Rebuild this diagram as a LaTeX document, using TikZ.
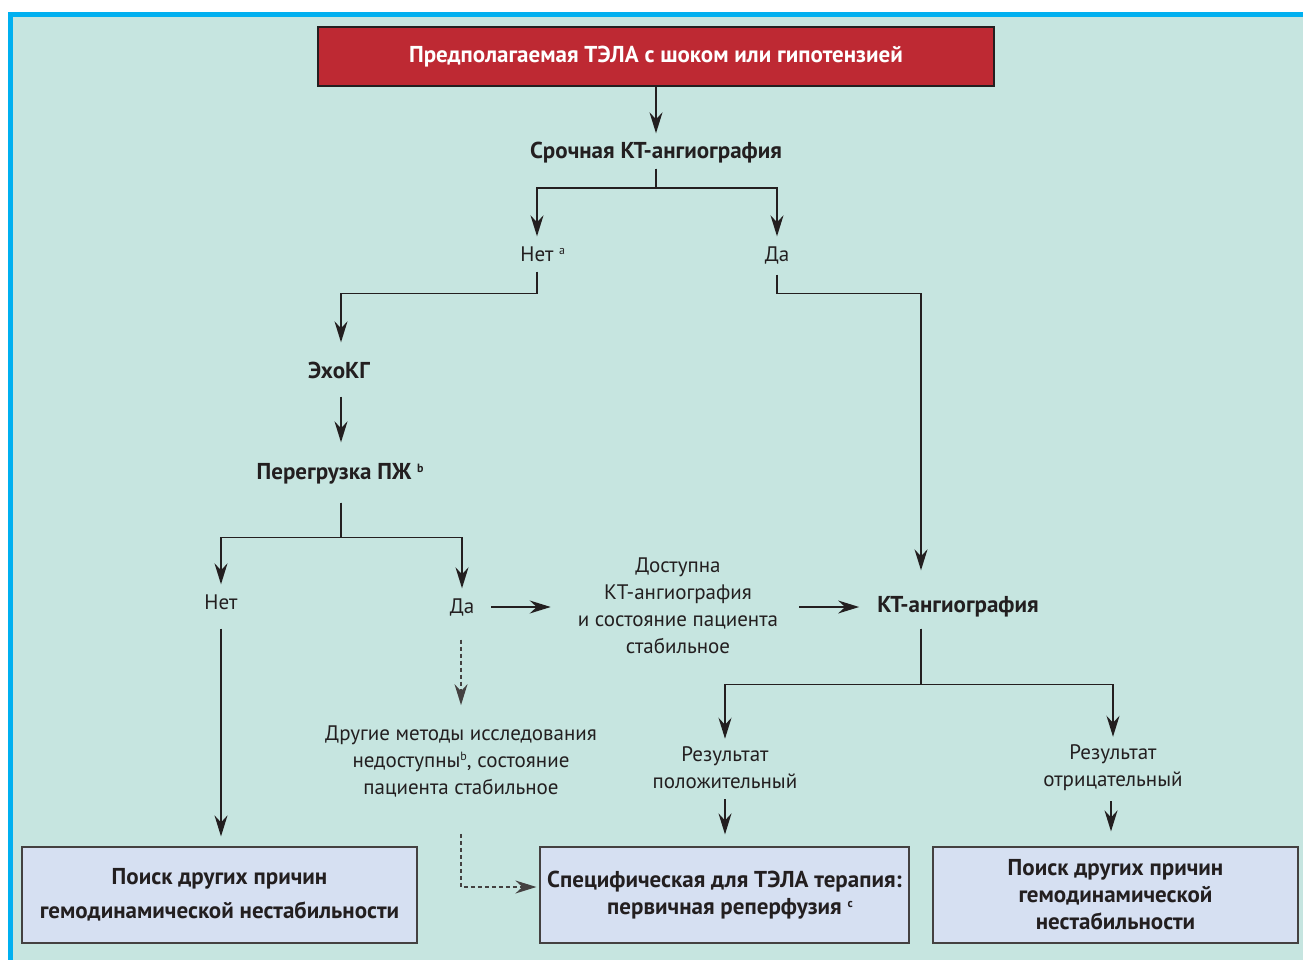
\documentclass[tikz,border=0pt]{standalone}
\usepackage{fontspec}
\setmainfont{PT Sans}
\usetikzlibrary{arrows.meta}
\definecolor{bg}{RGB}{198,229,224}
\definecolor{framecol}{RGB}{0,176,240}
\definecolor{redbox}{RGB}{190,41,51}
\definecolor{boxfill}{RGB}{214,224,242}
\definecolor{ink}{RGB}{35,31,32}
\newcommand\myfn[1]{\raisebox{7pt}{\fontsize{12}{12}\selectfont #1}}
\begin{document}
\begin{tikzpicture}[x=1pt,y=-1pt,
  every node/.style={font=\fontsize{21}{27}\selectfont, text=ink, inner sep=0pt, align=center},
  lbl/.style={text height=15pt, text depth=4pt, inner xsep=6pt, inner ysep=8pt},
  bold/.style={font=\fontsize{23}{27}\selectfont\bfseries},
  box/.style={draw=ink!85, line width=1.2pt, fill=boxfill, minimum height=96pt, font=\fontsize{23}{27}\selectfont\bfseries},
  conn/.style={draw=ink, line width=1.4pt},
  arr/.style={conn, -{Stealth[length=21pt,width=13pt,inset=7pt]}},
  darr/.style={arr, draw=ink!85, dash pattern=on 4pt off 3pt},
]
\useasboundingbox (0,0) rectangle (1303,960);
\fill[white] (0,0) rectangle (1303,960);
\fill[framecol] (8,12) rectangle (1303,960);
\fill[bg] (13,17) rectangle (1303,960);

% column helpers
\coordinate (c341) at (341,0);
\coordinate (c921) at (921,0);
\coordinate (c461) at (461,0);
\coordinate (c1111) at (1111,0);

\node[draw=ink, fill=redbox, line width=1.2pt, minimum width=676pt, minimum height=59pt, bold, text=white] (top) at (656,56.5) {Предполагаемая ТЭЛА с шоком или гипотензией};
\node[lbl, bold] (ct1) at (656,153) {Срочная КТ-ангиография};
\node[lbl] (no1) at (537,256) {Нет\rlap{ \myfn{a}}};
\node[lbl] (yes1) at (777,256) {Да};
\node[lbl, bold] (echo) at (339,373) {ЭхоКГ};
\node[lbl, bold] (rv) at (334,474) {Перегрузка ПЖ\rlap{ \myfn{b}}};
\node[lbl] (no2) at (221,604) {Нет};
\node[lbl] (yes2) at (462,608) {Да};
\node[inner xsep=0pt] (avail) at (678,606) {Доступна\\КТ-ангиография\\и состояние пациента\\стабильное};
\node[lbl, bold] (ct2) at (958,607) {КТ-ангиография};
\node (pos) at (725,768) {Результат\\положительный};
\node (neg) at (1113,768) {Результат\\отрицательный};
\node (other) at (461,761) {Другие методы исследования\\недоступны\myfn{b}, состояние\\пациента стабильное};
\node[box, minimum width=395pt] (boxL) at (219.5,895) {Поиск других причин\\[7pt]гемодинамической нестабильности};
\node[box, minimum width=369pt] (boxM) at (724.5,895) {Специфическая для ТЭЛА терапия:\\первичная реперфузия\rlap{ \myfn{c}}};
\node[box, minimum width=365pt] (boxR) at (1115.5,895) {Поиск других причин\\гемодинамической\\нестабильности};

% connectors
\draw[arr] (top.south -| ct1) -- ([yshift=2pt]ct1.north);
\draw[arr, shorten <=-2pt] (ct1.south) -- ++(0,17.5) -| ([yshift=2pt]no1.north);
\draw[arr, shorten <=-2pt] (ct1.south) -- ++(0,17.5) -| ([yshift=2pt]yes1.north);
\draw[arr, shorten <=-2pt, shorten >=13pt] (no1.south) -- ++(0,19.5) -| (echo.north -| c341);
\draw[arr, shorten <=6pt, shorten >=14pt] (echo.south -| c341) -- (rv.north -| c341);
\draw[arr, shorten <=11pt] (rv.south -| c341) -- ++(0,45.5) -| ([yshift=2pt]no2.north);
\draw[arr, shorten <=11pt] (rv.south -| c341) -- ++(0,45.5) -| ([yshift=2pt]yes2.north);
\draw[arr, shorten <=1pt, shorten >=19pt] (yes1.south) -- ++(0,19.5) -| (ct2.north -| c921);
\draw[arr, shorten <=7pt, shorten >=10pt] (no2.south) -- (boxL.north -| no2);
\draw[arr, shorten <=11pt, shorten >=27pt] (yes2.east |- ct2.west) -- (avail.west |- ct2.west);
\draw[arr, shorten <=21pt, shorten >=12pt] (avail.east |- ct2.west) -- (ct2.west);
\draw[arr, shorten <=4pt] (ct2.south -| c921) -- ++(0,59.5) -| ([yshift=8pt]pos.north);
\draw[arr, shorten <=4pt] (ct2.south -| c921) -- ++(0,59.5) -| ([yshift=8pt]neg.north);
\draw[arr, shorten <=10pt, shorten >=12pt] (pos.south) -- (boxM.north -| pos);
\draw[arr, shorten <=10pt, shorten >=15pt] (neg.south -| c1111) -- (boxR.north -| c1111);
\draw[darr, shorten <=14pt, shorten >=20pt] (yes2.south -| c461) -- (other.north -| c461);
\draw[darr, shorten <=37pt, shorten >=3pt] (other.south -| c461) |- ([yshift=8pt]boxM.west);
\end{tikzpicture}
\end{document}
